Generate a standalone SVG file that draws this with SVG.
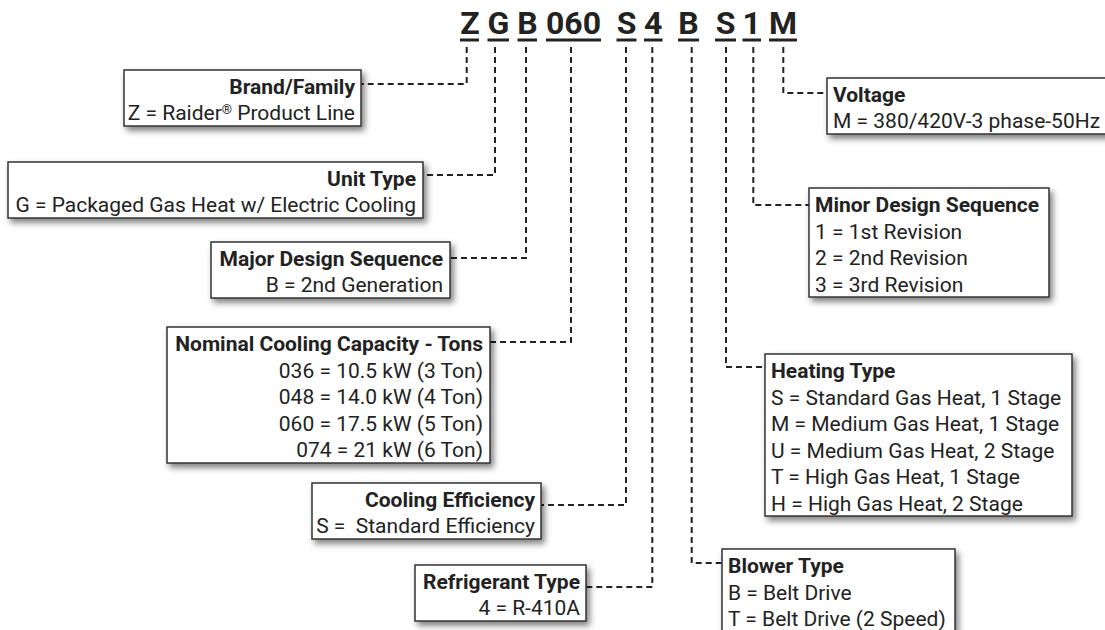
<svg xmlns="http://www.w3.org/2000/svg" width="1105" height="630" viewBox="0 0 1105 630">
<defs>
<filter id="sh" x="-10%" y="-20%" width="130%" height="160%">
<feDropShadow dx="3" dy="4" stdDeviation="3" flood-color="#000" flood-opacity="0.5"/>
</filter>
<style>
.box{fill:#fff;stroke:#333;stroke-width:1.5;filter:url(#sh)}
.t{font-family:Roboto,"Liberation Sans",sans-serif;font-size:21px;fill:#222}
.b{font-weight:bold}
.r{text-anchor:end}
.code{font-family:Roboto,"Liberation Sans",sans-serif;font-size:32px;font-weight:bold;fill:#222;text-anchor:middle}
.ul{stroke:#222;stroke-width:3}
.dash{fill:none;stroke:#222;stroke-width:2;stroke-dasharray:6 4}
</style>
</defs>
<rect width="1105" height="630" fill="#fff"/>
<g id="code">
<text class="code" x="470" y="34">Z</text>
<text class="code" x="498.5" y="34">G</text>
<text class="code" x="527.5" y="34">B</text>
<text class="code" x="573.5" y="34">060</text>
<text class="code" x="626.5" y="34">S</text>
<text class="code" x="653.3" y="34">4</text>
<text class="code" x="688.5" y="34">B</text>
<text class="code" x="725.5" y="34">S</text>
<text class="code" x="751.7" y="34">1</text>
<text class="code" x="783" y="34">M</text>
<line class="ul" x1="460" y1="40" x2="479" y2="40"/>
<line class="ul" x1="487.5" y1="40" x2="509" y2="40"/>
<line class="ul" x1="517.5" y1="40" x2="537" y2="40"/>
<line class="ul" x1="546" y1="40" x2="601" y2="40"/>
<line class="ul" x1="616.5" y1="40" x2="636.5" y2="40"/>
<line class="ul" x1="644" y1="40" x2="662.5" y2="40"/>
<line class="ul" x1="678" y1="40" x2="699" y2="40"/>
<line class="ul" x1="715" y1="40" x2="736" y2="40"/>
<line class="ul" x1="742.5" y1="40" x2="761" y2="40"/>
<line class="ul" x1="769" y1="40" x2="797" y2="40"/>
</g>
<g id="connectors">
<path class="dash" d="M466.7,47 V84 H361"/>
<path class="dash" d="M495,47 V175 H423"/>
<path class="dash" d="M526,47 V258 H450"/>
<path class="dash" d="M571,47 V342 H490"/>
<path class="dash" d="M626,47 V505 H541"/>
<path class="dash" d="M652.3,47 V587 H586"/>
<path class="dash" d="M691.7,47 V563 H722"/>
<path class="dash" d="M726,47 V367 H765"/>
<path class="dash" d="M753.3,47 V205 H809"/>
<path class="dash" d="M783.3,47 V93 H827"/>
</g>
<g id="brand">
<rect class="box" x="124" y="70" width="237" height="56"/>
<text class="t b r" x="355" y="94">Brand/Family</text>
<text class="t r" x="355" y="120">Z = Raider<tspan font-size="13" baseline-shift="6">®</tspan> Product Line</text>
</g>
<g id="unit-type">
<rect class="box" x="8" y="162" width="415" height="56"/>
<text class="t b r" x="416" y="186">Unit Type</text>
<text class="t r" x="416" y="212">G = Packaged Gas Heat w/ Electric Cooling</text>
</g>
<g id="major-design">
<rect class="box" x="211" y="242" width="239" height="56"/>
<text class="t b r" x="443" y="266">Major Design Sequence</text>
<text class="t r" x="443" y="292">B = 2nd Generation</text>
</g>
<g id="nominal-cooling">
<rect class="box" x="167" y="327" width="323" height="136"/>
<text class="t b r" x="483" y="351">Nominal Cooling Capacity - Tons</text>
<text class="t r" x="483" y="377.5">036 = 10.5 kW (3 Ton)</text>
<text class="t r" x="483" y="404">048 = 14.0 kW (4 Ton)</text>
<text class="t r" x="483" y="430.5">060 = 17.5 kW (5 Ton)</text>
<text class="t r" x="483" y="457">074 = 21 kW (6 Ton)</text>
</g>
<g id="cooling-efficiency">
<rect class="box" x="312" y="483" width="229" height="56"/>
<text class="t b r" x="535" y="507">Cooling Efficiency</text>
<text class="t r" x="535" y="533" xml:space="preserve">S =  Standard Efficiency</text>
</g>
<g id="refrigerant">
<rect class="box" x="415" y="565" width="171" height="56"/>
<text class="t b r" x="580" y="589">Refrigerant Type</text>
<text class="t r" x="580" y="615">4 = R-410A</text>
</g>
<g id="voltage">
<rect class="box" x="827" y="78" width="300" height="56"/>
<text class="t b" x="833" y="102">Voltage</text>
<text class="t" x="833" y="128">M = 380/420V-3 phase-50Hz</text>
</g>
<g id="minor-design">
<rect class="box" x="809" y="188" width="240" height="109"/>
<text class="t b" x="815" y="212">Minor Design Sequence</text>
<text class="t" x="815" y="238.5">1 = 1st Revision</text>
<text class="t" x="815" y="265">2 = 2nd Revision</text>
<text class="t" x="815" y="291.5">3 = 3rd Revision</text>
</g>
<g id="heating-type">
<rect class="box" x="765" y="354" width="307" height="162"/>
<text class="t b" x="771" y="378">Heating Type</text>
<text class="t" x="771" y="404.5">S = Standard Gas Heat, 1 Stage</text>
<text class="t" x="771" y="431">M = Medium Gas Heat, 1 Stage</text>
<text class="t" x="771" y="457.5">U = Medium Gas Heat, 2 Stage</text>
<text class="t" x="771" y="484">T = High Gas Heat, 1 Stage</text>
<text class="t" x="771" y="510.5">H = High Gas Heat, 2 Stage</text>
</g>
<g id="blower-type">
<rect class="box" x="722" y="549" width="233" height="100"/>
<text class="t b" x="728" y="573">Blower Type</text>
<text class="t" x="728" y="599.5">B = Belt Drive</text>
<text class="t" x="728" y="626">T = Belt Drive (2 Speed)</text>
</g>
</svg>
